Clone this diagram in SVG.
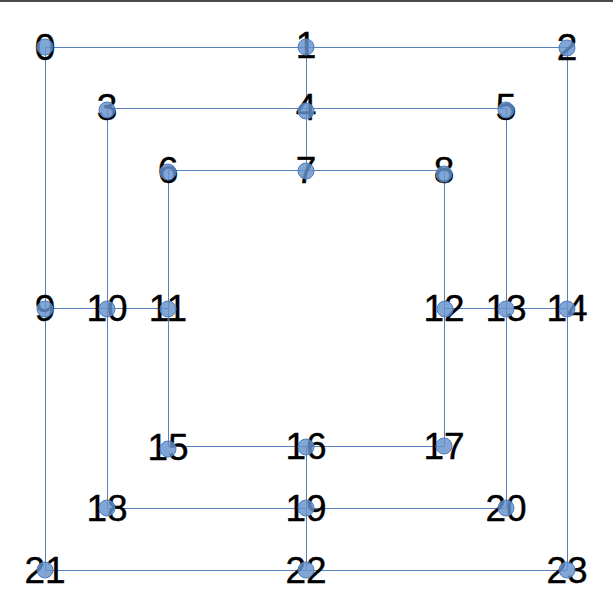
<svg xmlns="http://www.w3.org/2000/svg" width="613" height="612" viewBox="0 0 613 612">
<style>
.e{stroke:#5880bc;stroke-width:1;fill:none;shape-rendering:crispEdges}
.n circle{fill:#6592cd;stroke:#4f7cba;stroke-width:1;fill-opacity:0.82}
.n text{font-family:"Liberation Sans",Arial,sans-serif;font-size:37px;fill:#000;stroke:#000;stroke-width:0.4;text-anchor:middle;dominant-baseline:central}
</style>
<rect x="0" y="0" width="613" height="612" fill="#fff"/>
<rect x="0" y="0" width="613" height="2" fill="#4a4a4a"/>
<g id="connectors" class="e">
<line x1="45" y1="47" x2="306" y2="47"/><line x1="306" y1="47" x2="567" y2="47"/>
<line x1="107" y1="108" x2="306" y2="108"/><line x1="306" y1="108" x2="506" y2="108"/>
<line x1="168" y1="170" x2="306" y2="170"/><line x1="306" y1="170" x2="444" y2="170"/>
<line x1="45" y1="308" x2="107" y2="308"/><line x1="107" y1="308" x2="168" y2="308"/>
<line x1="444" y1="308" x2="506" y2="308"/><line x1="506" y1="308" x2="567" y2="308"/>
<line x1="168" y1="446" x2="306" y2="446"/><line x1="306" y1="446" x2="444" y2="446"/>
<line x1="107" y1="508" x2="306" y2="508"/><line x1="306" y1="508" x2="506" y2="508"/>
<line x1="45" y1="570" x2="306" y2="570"/><line x1="306" y1="570" x2="567" y2="570"/>
<line x1="45" y1="47" x2="45" y2="308"/><line x1="45" y1="308" x2="45" y2="570"/>
<line x1="107" y1="108" x2="107" y2="308"/><line x1="107" y1="308" x2="107" y2="508"/>
<line x1="168" y1="170" x2="168" y2="308"/><line x1="168" y1="308" x2="168" y2="446"/>
<line x1="306" y1="47" x2="306" y2="108"/><line x1="306" y1="108" x2="306" y2="170"/>
<line x1="306" y1="446" x2="306" y2="508"/><line x1="306" y1="508" x2="306" y2="570"/>
<line x1="444" y1="170" x2="444" y2="308"/><line x1="444" y1="308" x2="444" y2="446"/>
<line x1="506" y1="108" x2="506" y2="308"/><line x1="506" y1="308" x2="506" y2="508"/>
<line x1="567" y1="47" x2="567" y2="308"/><line x1="567" y1="308" x2="567" y2="570"/>
</g>
<g id="n0" class="n"><text x="45" y="47">0</text><circle cx="45" cy="47" r="8"/></g>
<g id="n1" class="n"><text x="306" y="45">1</text><circle cx="306" cy="47" r="8"/></g>
<g id="n2" class="n"><text x="567" y="47">2</text><circle cx="567" cy="48" r="8"/></g>
<g id="n3" class="n"><text x="107" y="107">3</text><circle cx="107" cy="110" r="8"/></g>
<g id="n4" class="n"><text x="306" y="107">4</text><circle cx="306" cy="111" r="8"/></g>
<g id="n5" class="n"><text x="506" y="107">5</text><circle cx="506" cy="110" r="8"/></g>
<g id="n6" class="n"><text x="168" y="170">6</text><circle cx="168" cy="172" r="8"/></g>
<g id="n7" class="n"><text x="306" y="170">7</text><circle cx="306" cy="171" r="8"/></g>
<g id="n8" class="n"><text x="444" y="170">8</text><circle cx="444" cy="174" r="8"/></g>
<g id="n9" class="n"><text x="45" y="308">9</text><circle cx="45" cy="309" r="8"/></g>
<g id="n10" class="n"><text x="107" y="308">10</text><circle cx="107" cy="309" r="8"/></g>
<g id="n11" class="n"><text x="168" y="308">11</text><circle cx="168" cy="309" r="8"/></g>
<g id="n12" class="n"><text x="444" y="308">12</text><circle cx="445" cy="309" r="8"/></g>
<g id="n13" class="n"><text x="506" y="308">13</text><circle cx="506" cy="309" r="8"/></g>
<g id="n14" class="n"><text x="567" y="308">14</text><circle cx="567" cy="309" r="8"/></g>
<g id="n15" class="n"><text x="168" y="447">15</text><circle cx="168" cy="449" r="8"/></g>
<g id="n16" class="n"><text x="306" y="446">16</text><circle cx="306" cy="447" r="8"/></g>
<g id="n17" class="n"><text x="444" y="446">17</text><circle cx="444" cy="446" r="8"/></g>
<g id="n18" class="n"><text x="107" y="508">18</text><circle cx="107" cy="508" r="8"/></g>
<g id="n19" class="n"><text x="306" y="508">19</text><circle cx="306" cy="508" r="8"/></g>
<g id="n20" class="n"><text x="506" y="508">20</text><circle cx="506" cy="508" r="8"/></g>
<g id="n21" class="n"><text x="45" y="570">21</text><circle cx="45" cy="570" r="8"/></g>
<g id="n22" class="n"><text x="306" y="570">22</text><circle cx="306" cy="570" r="8"/></g>
<g id="n23" class="n"><text x="567" y="570">23</text><circle cx="567" cy="570" r="8"/></g>
</svg>
